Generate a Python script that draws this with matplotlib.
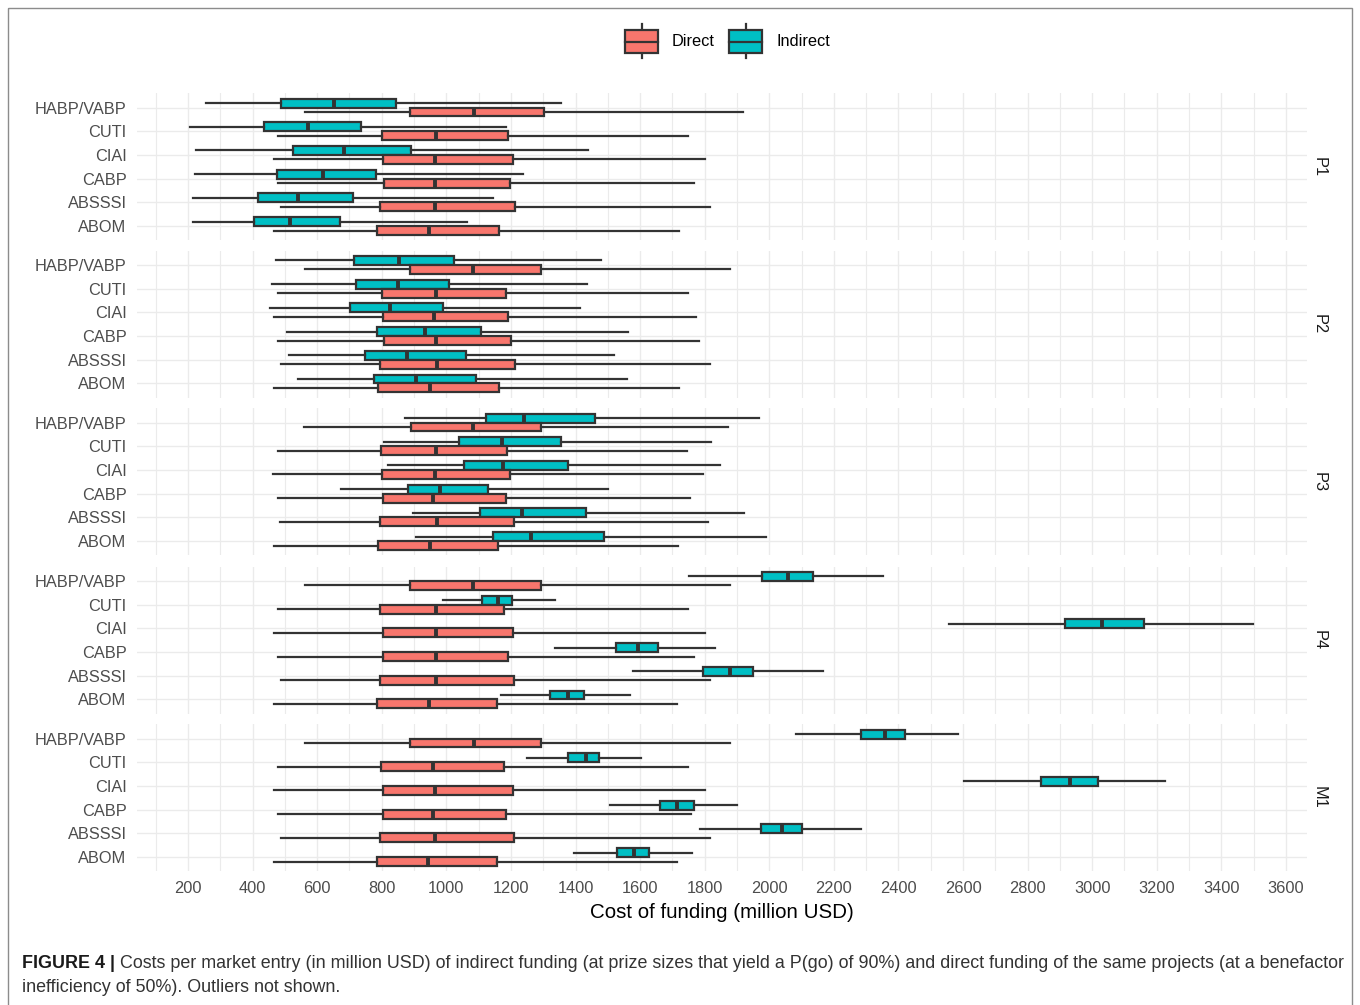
import matplotlib.pyplot as plt
from matplotlib.patches import Rectangle
import numpy as np

plt.rcParams['font.family'] = ['Liberation Sans', 'DejaVu Sans']

# Categories listed top to bottom
categories = ["HABP/VABP", "CUTI", "CIAI", "CABP", "ABSSSI", "ABOM"]
facets = ["P1", "P2", "P3", "P4", "M1"]

# Box stats per category: [whisker low, q1, median, q3, whisker high]
p1_indirect = [[257, 489, 653, 845, 1356], [207, 434, 573, 736, 1185],
               [224, 525, 683, 891, 1440], [222, 476, 618, 782, 1237],
               [214, 416, 542, 711, 1145], [214, 405, 517, 672, 1064]]
p1_direct = [[561, 888, 1086, 1302, 1920], [478, 800, 967, 1192, 1747],
             [465, 804, 965, 1206, 1800], [478, 808, 965, 1196, 1768],
             [487, 796, 965, 1212, 1817], [467, 784, 947, 1164, 1720]]

p2_indirect = [[473, 715, 854, 1023, 1480], [459, 719, 851, 1009, 1435],
               [455, 703, 825, 989, 1415], [505, 784, 933, 1106, 1564],
               [513, 748, 879, 1060, 1520], [541, 775, 906, 1092, 1558]]
p2_direct = [[561, 888, 1081, 1293, 1877], [478, 801, 967, 1186, 1747],
             [465, 804, 963, 1192, 1773], [478, 808, 967, 1200, 1783],
             [487, 796, 971, 1214, 1817], [467, 787, 949, 1163, 1720]]

p3_indirect = [[873, 1122, 1240, 1459, 1968], [807, 1040, 1171, 1356, 1819],
               [818, 1055, 1176, 1377, 1846], [674, 881, 979, 1130, 1500],
               [897, 1103, 1234, 1432, 1922], [907, 1144, 1261, 1487, 1989]]
p3_direct = [[560, 891, 1082, 1293, 1873], [478, 799, 968, 1187, 1745],
             [464, 802, 965, 1198, 1796], [478, 805, 960, 1185, 1753],
             [486, 796, 972, 1210, 1810], [466, 789, 949, 1160, 1717]]

p4_indirect = [[1750, 1977, 2059, 2134, 2352], [989, 1109, 1160, 1204, 1337],
               [2558, 2916, 3030, 3160, 3497], [1336, 1525, 1595, 1656, 1832],
               [1577, 1794, 1878, 1950, 2167], [1170, 1320, 1376, 1427, 1570]]
p4_direct = [[561, 888, 1081, 1293, 1877], [478, 796, 967, 1179, 1747],
             [465, 804, 967, 1206, 1800], [478, 805, 967, 1192, 1768],
             [487, 796, 967, 1210, 1817], [467, 784, 947, 1157, 1713]]

m1_indirect = [[2083, 2284, 2359, 2420, 2585], [1251, 1377, 1431, 1473, 1603],
               [2602, 2842, 2931, 3017, 3227], [1507, 1663, 1715, 1768, 1901],
               [1786, 1974, 2039, 2102, 2283], [1394, 1528, 1581, 1627, 1761]]
m1_direct = [[561, 888, 1085, 1293, 1877], [478, 797, 960, 1179, 1747],
             [465, 804, 965, 1206, 1800], [478, 805, 960, 1186, 1758],
             [487, 796, 965, 1210, 1817], [467, 784, 944, 1157, 1713]]

indirect_sets = [p1_indirect, p2_indirect, p3_indirect, p4_indirect, m1_indirect]
direct_sets = [p1_direct, p2_direct, p3_direct, p4_direct, m1_direct]

direct_color = "#F8766D"
indirect_color = "#00BFC4"
edge = "#333333"
grid_col = "#EBEBEB"
text_gray = "#4D4D4D"

W, H = 1360, 1005
fig = plt.figure(figsize=(W / 100, H / 100), dpi=100)

panel_left, panel_right = 137, 1306.6
panel_h = 147
panel_tops = [93.3, 250.7, 408.3, 566.7, 724.3]
xlim = (42, 3664)


def to_stats(rows):
    return [dict(whislo=r[0], q1=r[1], med=r[2], q3=r[3], whishi=r[4], fliers=[])
            for r in rows]


n = len(categories)
ypos = np.arange(n, 0, -1)  # top category gets highest position
bw = 0.375

for k, facet in enumerate(facets):
    top = panel_tops[k]
    ax = fig.add_axes([panel_left / W, 1 - (top + panel_h) / H,
                       (panel_right - panel_left) / W, panel_h / H])
    ax.set_xlim(*xlim)
    ax.set_ylim(0.4, n + 0.6)

    ax.set_xticks(np.arange(200, 3601, 200))
    ax.set_xticks(np.arange(100, 3601, 200), minor=True)
    ax.set_yticks(ypos)
    ax.set_yticklabels(categories)
    ax.grid(True, which="major", color=grid_col, lw=1.0, zorder=0)
    ax.grid(True, which="minor", axis="x", color=grid_col, lw=0.8, zorder=0)
    ax.set_axisbelow(True)
    for s in ax.spines.values():
        s.set_visible(False)
    ax.tick_params(which="both", length=0)
    ax.tick_params(axis="y", labelsize=11.8, labelcolor=text_gray, pad=7.5)
    if k < len(facets) - 1:
        ax.tick_params(axis="x", labelbottom=False)
    else:
        ax.tick_params(axis="x", labelsize=11.8, labelcolor=text_gray, pad=7)
        ax.set_xlabel("Cost of funding (million USD)", fontsize=14.8,
                      color="black", labelpad=5)

    for rows, off, col in [(indirect_sets[k], bw / 2, indirect_color),
                           (direct_sets[k], -bw / 2, direct_color)]:
        ax.bxp(to_stats(rows), positions=ypos + off, widths=bw,
               orientation="horizontal", patch_artist=True, showcaps=False,
               showfliers=False,
               boxprops=dict(facecolor=col, edgecolor=edge, linewidth=1.6),
               whiskerprops=dict(color=edge, linewidth=1.6),
               medianprops=dict(color=edge, linewidth=2.8, solid_capstyle="butt"),
               manage_ticks=False, zorder=3)

    ax.text(1.0105, 0.5, facet, transform=ax.transAxes, rotation=270,
            ha="center", va="center", fontsize=11.8, color="#1A1A1A")

# overlay in pixel coordinates for legend, caption and frame
ov = fig.add_axes([0, 0, 1, 1], zorder=-1)
ov.set_xlim(0, W)
ov.set_ylim(H, 0)
ov.axis("off")
ov.patch.set_alpha(0)

ov.add_patch(Rectangle((8, 8), W - 16, H + 10, fill=False,
                       edgecolor="#8C8C8C", lw=1.0))

legend_items = [("Direct", direct_color, 625, 672), ("Indirect", indirect_color, 729, 776)]
for name, col, x0, tx in legend_items:
    ov.plot([x0 + 16.5, x0 + 16.5], [24.3, 57.7], color=edge, lw=1.6)
    ov.add_patch(Rectangle((x0, 30), 33, 22.7, facecolor=col, edgecolor=edge,
                           lw=1.6, zorder=3))
    ov.plot([x0, x0 + 33], [41.5, 41.5], color=edge, lw=1.6, zorder=4)
    ov.text(tx, 41.5, name, ha="left", va="center", fontsize=11.8, color="black")

cap_size = 12.9
bold = ov.text(22, 968, "FIGURE 4 |", ha="left", va="baseline", fontsize=cap_size,
               fontweight="bold", color="#1A1A1A")
fig.canvas.draw()
bb = bold.get_window_extent()
inv = ov.transData.inverted()
x_end = inv.transform((bb.x1, bb.y0))[0]
ov.text(x_end + 5, 968,
        "Costs per market entry (in million USD) of indirect funding (at prize sizes that "
        "yield a P(go) of 90%) and direct funding of the same projects (at a benefactor",
        ha="left", va="baseline", fontsize=cap_size, color="#333333")
ov.text(22, 992, "inefficiency of 50%). Outliers not shown.", ha="left",
        va="baseline", fontsize=cap_size, color="#333333")

fig.savefig("out.png", dpi=100)
